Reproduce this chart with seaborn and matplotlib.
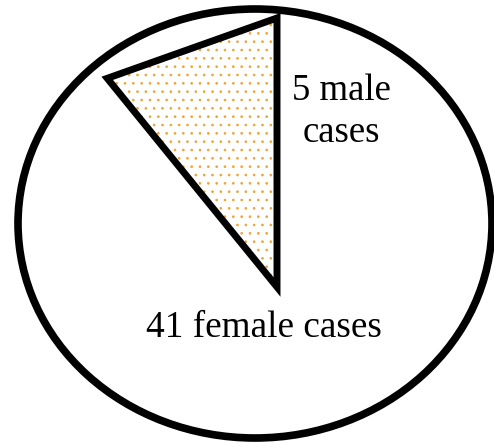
import numpy as np
import matplotlib
matplotlib.use('Agg')
import matplotlib.pyplot as plt
from matplotlib.patches import Ellipse, Polygon
import seaborn as sns

sns.set_theme(style='white')
plt.rcParams['font.family'] = ['Liberation Serif', 'DejaVu Serif']
plt.rcParams['hatch.linewidth'] = 0.7

genders = ['male', 'female']
cases = [5, 41]
slice_colors = ['#f0a437', 'white']

total = sum(cases)

fig = plt.figure(figsize=(4.94, 4.43), dpi=100)
ax = fig.add_axes([0, 0, 1, 1])
ax.set_xlim(0, 494)
ax.set_ylim(443, 0)
ax.axis('off')

# whole pie drawn as an ellipse (all cases)
ax.add_patch(Ellipse((255, 223.5), 474, 429, facecolor='white',
                     edgecolor='black', lw=5.5, zorder=1))

# male slice drawn as a straight-edged wedge, angle from its share
apex = np.array([277.0, 287.0])
arm = 269
start = 90
span = 360 * cases[0] / total
angles = np.radians([start, start + span])
pts = [apex] + [apex + arm * np.array([np.cos(a), -np.sin(a)]) for a in angles]

ax.add_patch(Polygon(pts, closed=True, facecolor='white',
                     edgecolor=slice_colors[0], hatch='..', lw=0, zorder=2))
ax.add_patch(Polygon(pts, closed=True, facecolor='none', edgecolor='black',
                     lw=5, joinstyle='miter', zorder=3))

ax.text(341, 112, f'{cases[0]} {genders[0]}\ncases', ha='center',
        va='center', fontsize=26.5, linespacing=1.3, color='black')
ax.text(264, 328, f'{cases[1]} {genders[1]} cases', ha='center',
        va='center', fontsize=26.8, color='black')

fig.savefig('out.png', dpi=100)
